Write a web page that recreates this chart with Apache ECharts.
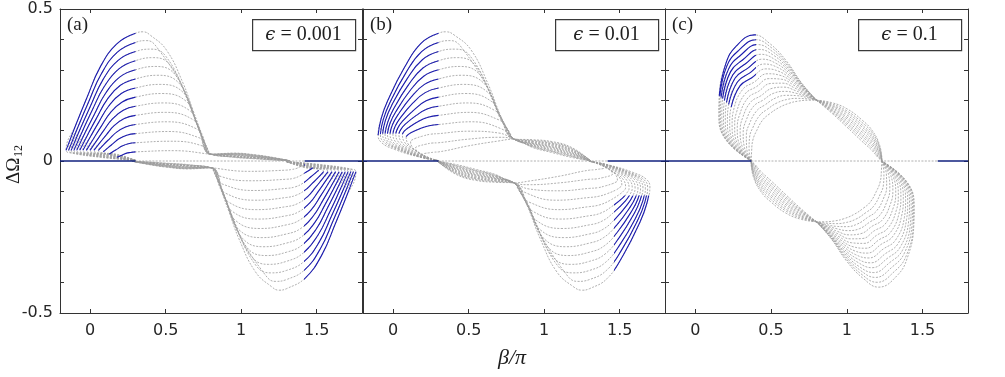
<!DOCTYPE html>
<html>
<head>
<meta charset="utf-8">
<script src="https://cdn.jsdelivr.net/npm/echarts@6/dist/echarts.min.js"></script>
<style>
html, body { margin: 0; padding: 0; background: #fff; }
#main { width: 1005px; height: 377px; }
</style>
</head>
<body>
<div id="main"></div>
<script>
// ---------------- data ----------------
// x = beta/pi, y = Delta Omega_12. Each row is one loop of the family.

// panel (a), eps = 0.001, upper lobe: return branch near zero, rising (blue) part, hump + thin band
var aUpLow = [
  [[0.3,0.002],[0.07,0.012],[-0.145,0.028],[-0.16,0.035]],
  [[0.3,0.002],[0.079,0.013],[-0.128,0.028],[-0.143,0.035]],
  [[0.3,0.002],[0.087,0.014],[-0.111,0.028],[-0.126,0.035]],
  [[0.3,0.002],[0.096,0.015],[-0.093,0.028],[-0.108,0.035]],
  [[0.3,0.002],[0.106,0.016],[-0.074,0.028],[-0.089,0.035]],
  [[0.3,0.002],[0.116,0.017],[-0.054,0.028],[-0.069,0.035]],
  [[0.3,0.002],[0.126,0.018],[-0.033,0.028],[-0.048,0.035]],
  [[0.3,0.002],[0.138,0.019],[-0.01,0.028],[-0.025,0.035]],
  [[0.3,0.002],[0.15,0.02],[0.014,0.028],[-0.001,0.035]],
  [[0.3,0.002],[0.163,0.021],[0.04,0.028],[0.025,0.035]],
  [[0.3,0.002],[0.177,0.022],[0.069,0.028],[0.054,0.035]],
  [[0.3,0.002],[0.194,0.018],[0.1,0.024],[0.087,0.03]],
  [[0.3,0.002],[0.213,0.013],[0.138,0.018],[0.126,0.022]],
  [[0.3,0.001],[0.239,0.007],[0.185,0.01],[0.177,0.012]]
];
var aUpRise = [
  [[-0.16,0.035],[-0.091,0.124],[-0.022,0.208],[0.065,0.308],[0.176,0.385],[0.3,0.42]],
  [[-0.143,0.035],[-0.077,0.117],[-0.01,0.195],[0.074,0.287],[0.18,0.358],[0.3,0.39]],
  [[-0.126,0.035],[-0.062,0.11],[0.002,0.181],[0.083,0.266],[0.185,0.331],[0.3,0.36]],
  [[-0.108,0.035],[-0.047,0.103],[0.014,0.168],[0.092,0.244],[0.19,0.303],[0.3,0.33]],
  [[-0.089,0.035],[-0.031,0.096],[0.028,0.154],[0.102,0.223],[0.195,0.276],[0.3,0.3]],
  [[-0.069,0.035],[-0.014,0.089],[0.042,0.141],[0.112,0.202],[0.2,0.249],[0.3,0.27]],
  [[-0.048,0.035],[0.004,0.082],[0.056,0.127],[0.123,0.181],[0.206,0.222],[0.3,0.24]],
  [[-0.025,0.035],[0.024,0.075],[0.073,0.114],[0.134,0.159],[0.212,0.194],[0.3,0.21]],
  [[-0.001,0.035],[0.044,0.068],[0.089,0.1],[0.146,0.138],[0.219,0.167],[0.3,0.18]],
  [[0.025,0.035],[0.066,0.061],[0.108,0.087],[0.16,0.117],[0.226,0.14],[0.3,0.15]],
  [[0.054,0.035],[0.091,0.055],[0.128,0.073],[0.175,0.095],[0.234,0.112],[0.3,0.12]],
  [[0.087,0.03],[0.119,0.044],[0.151,0.057],[0.191,0.073],[0.242,0.085],[0.3,0.09]],
  [[0.126,0.022],[0.152,0.031],[0.178,0.039],[0.211,0.049],[0.253,0.057],[0.3,0.06]],
  [[0.177,0.012],[0.195,0.016],[0.214,0.02],[0.237,0.025],[0.267,0.028],[0.3,0.03]]
];
var aUpHump = [
  [[0.3,0.42],[0.35,0.425],[0.4,0.413],[0.505,0.365],[0.615,0.256],[0.68,0.168],[0.747,0.08],[0.8,0.022],[0.95,0.026],[1.1,0.02],[1.22,0.011],[1.32,0.001]],
  [[0.3,0.39],[0.375,0.396],[0.44,0.375],[0.621,0.234],[0.713,0.117],[0.8,0.022],[0.95,0.025],[1.1,0.019],[1.22,0.01],[1.32,0.001]],
  [[0.3,0.36],[0.405,0.368],[0.5,0.345],[0.635,0.216],[0.72,0.108],[0.8,0.022],[0.95,0.024],[1.1,0.018],[1.22,0.01],[1.32,0.001]],
  [[0.3,0.33],[0.42,0.34],[0.53,0.315],[0.647,0.198],[0.727,0.099],[0.8,0.022],[0.95,0.023],[1.1,0.017],[1.22,0.009],[1.32,0.001]],
  [[0.3,0.3],[0.435,0.311],[0.561,0.285],[0.661,0.18],[0.734,0.09],[0.8,0.022],[0.95,0.022],[1.1,0.016],[1.22,0.009],[1.32,0.001]],
  [[0.3,0.27],[0.45,0.282],[0.59,0.255],[0.675,0.162],[0.74,0.081],[0.8,0.022],[0.95,0.021],[1.1,0.015],[1.22,0.008],[1.32,0.001]],
  [[0.3,0.24],[0.463,0.252],[0.617,0.225],[0.688,0.144],[0.748,0.072],[0.8,0.022],[0.95,0.02],[1.1,0.014],[1.22,0.007],[1.32,0.001]],
  [[0.3,0.21],[0.475,0.222],[0.639,0.195],[0.702,0.126],[0.756,0.063],[0.8,0.022],[0.95,0.019],[1.1,0.013],[1.22,0.007],[1.32,0.001]],
  [[0.3,0.18],[0.486,0.191],[0.661,0.165],[0.716,0.108],[0.764,0.054],[0.8,0.022],[0.95,0.017],[1.1,0.012],[1.22,0.006],[1.32,0.001]],
  [[0.3,0.15],[0.497,0.16],[0.684,0.135],[0.73,0.09],[0.773,0.045],[0.8,0.022],[0.95,0.016],[1.1,0.011],[1.22,0.006],[1.32,0.001]],
  [[0.3,0.12],[0.508,0.129],[0.707,0.105],[0.744,0.072],[0.781,0.036],[0.8,0.022],[0.95,0.015],[1.1,0.01],[1.22,0.005],[1.32,0.001]],
  [[0.3,0.09],[0.52,0.097],[0.729,0.075],[0.76,0.054],[0.8,0.022],[0.95,0.014],[1.1,0.009],[1.22,0.004],[1.32,0.001]],
  [[0.3,0.06],[0.532,0.065],[0.74,0.05],[0.8,0.022],[0.95,0.013],[1.1,0.008],[1.22,0.004],[1.32,0.001]],
  [[0.3,0.03],[0.55,0.034],[0.8,0.022],[0.95,0.012],[1.1,0.007],[1.22,0.003],[1.32,0.001]]
];

// panel (a), lower lobe
var aDnLow = [
  [[1.3,-0.002],[1.53,-0.012],[1.745,-0.028],[1.76,-0.035]],
  [[1.3,-0.002],[1.521,-0.013],[1.728,-0.028],[1.743,-0.035]],
  [[1.3,-0.002],[1.513,-0.014],[1.711,-0.028],[1.726,-0.035]],
  [[1.3,-0.002],[1.504,-0.015],[1.693,-0.028],[1.708,-0.035]],
  [[1.3,-0.002],[1.494,-0.016],[1.674,-0.028],[1.689,-0.035]],
  [[1.3,-0.002],[1.484,-0.017],[1.654,-0.028],[1.669,-0.035]],
  [[1.3,-0.002],[1.474,-0.018],[1.633,-0.028],[1.648,-0.035]],
  [[1.3,-0.002],[1.462,-0.019],[1.61,-0.028],[1.625,-0.035]],
  [[1.3,-0.002],[1.45,-0.02],[1.586,-0.028],[1.601,-0.035]],
  [[1.3,-0.002],[1.437,-0.021],[1.56,-0.028],[1.575,-0.035]],
  [[1.3,-0.002],[1.423,-0.022],[1.531,-0.028],[1.546,-0.035]],
  [[1.3,-0.002],[1.406,-0.018],[1.5,-0.024],[1.513,-0.03]],
  [[1.3,-0.002],[1.387,-0.013],[1.462,-0.018],[1.474,-0.022]],
  [[1.3,-0.001],[1.361,-0.007],[1.415,-0.01],[1.423,-0.012]]
];
var aDnRise = [
  [[1.76,-0.035],[1.691,-0.124],[1.622,-0.208],[1.535,-0.308],[1.424,-0.385],[1.3,-0.42]],
  [[1.743,-0.035],[1.677,-0.117],[1.61,-0.195],[1.526,-0.287],[1.42,-0.358],[1.3,-0.39]],
  [[1.726,-0.035],[1.662,-0.11],[1.598,-0.181],[1.517,-0.266],[1.415,-0.331],[1.3,-0.36]],
  [[1.708,-0.035],[1.647,-0.103],[1.586,-0.168],[1.508,-0.244],[1.41,-0.303],[1.3,-0.33]],
  [[1.689,-0.035],[1.631,-0.096],[1.572,-0.154],[1.498,-0.223],[1.405,-0.276],[1.3,-0.3]],
  [[1.669,-0.035],[1.614,-0.089],[1.558,-0.141],[1.488,-0.202],[1.4,-0.249],[1.3,-0.27]],
  [[1.648,-0.035],[1.596,-0.082],[1.544,-0.127],[1.477,-0.181],[1.394,-0.222],[1.3,-0.24]],
  [[1.625,-0.035],[1.576,-0.075],[1.527,-0.114],[1.466,-0.159],[1.388,-0.194],[1.3,-0.21]],
  [[1.601,-0.035],[1.556,-0.068],[1.511,-0.1],[1.454,-0.138],[1.381,-0.167],[1.3,-0.18]],
  [[1.575,-0.035],[1.534,-0.061],[1.492,-0.087],[1.44,-0.117],[1.374,-0.14],[1.3,-0.15]],
  [[1.546,-0.035],[1.509,-0.055],[1.472,-0.073],[1.425,-0.095],[1.366,-0.112],[1.3,-0.12]],
  [[1.513,-0.03],[1.481,-0.044],[1.449,-0.057],[1.409,-0.073],[1.358,-0.085],[1.3,-0.09]],
  [[1.474,-0.022],[1.448,-0.031],[1.422,-0.039],[1.389,-0.049],[1.347,-0.057],[1.3,-0.06]],
  [[1.423,-0.012],[1.405,-0.016],[1.386,-0.02],[1.363,-0.025],[1.333,-0.028],[1.3,-0.03]]
];
var aDnHump = [
  [[1.3,-0.42],[1.25,-0.425],[1.2,-0.413],[1.095,-0.365],[0.985,-0.256],[0.92,-0.168],[0.853,-0.08],[0.8,-0.022],[0.65,-0.026],[0.5,-0.02],[0.38,-0.011],[0.28,-0.001]],
  [[1.3,-0.39],[1.225,-0.396],[1.16,-0.375],[0.979,-0.234],[0.887,-0.117],[0.8,-0.022],[0.65,-0.025],[0.5,-0.019],[0.38,-0.01],[0.28,-0.001]],
  [[1.3,-0.36],[1.195,-0.368],[1.1,-0.345],[0.965,-0.216],[0.88,-0.108],[0.8,-0.022],[0.65,-0.024],[0.5,-0.018],[0.38,-0.01],[0.28,-0.001]],
  [[1.3,-0.33],[1.18,-0.34],[1.07,-0.315],[0.953,-0.198],[0.873,-0.099],[0.8,-0.022],[0.65,-0.023],[0.5,-0.017],[0.38,-0.009],[0.28,-0.001]],
  [[1.3,-0.3],[1.165,-0.311],[1.039,-0.285],[0.939,-0.18],[0.866,-0.09],[0.8,-0.022],[0.65,-0.022],[0.5,-0.016],[0.38,-0.009],[0.28,-0.001]],
  [[1.3,-0.27],[1.15,-0.282],[1.01,-0.255],[0.925,-0.162],[0.86,-0.081],[0.8,-0.022],[0.65,-0.021],[0.5,-0.015],[0.38,-0.008],[0.28,-0.001]],
  [[1.3,-0.24],[1.137,-0.252],[0.983,-0.225],[0.912,-0.144],[0.852,-0.072],[0.8,-0.022],[0.65,-0.02],[0.5,-0.014],[0.38,-0.007],[0.28,-0.001]],
  [[1.3,-0.21],[1.125,-0.222],[0.961,-0.195],[0.898,-0.126],[0.844,-0.063],[0.8,-0.022],[0.65,-0.019],[0.5,-0.013],[0.38,-0.007],[0.28,-0.001]],
  [[1.3,-0.18],[1.114,-0.191],[0.939,-0.165],[0.884,-0.108],[0.836,-0.054],[0.8,-0.022],[0.65,-0.017],[0.5,-0.012],[0.38,-0.006],[0.28,-0.001]],
  [[1.3,-0.15],[1.103,-0.16],[0.916,-0.135],[0.87,-0.09],[0.827,-0.045],[0.8,-0.022],[0.65,-0.016],[0.5,-0.011],[0.38,-0.006],[0.28,-0.001]],
  [[1.3,-0.12],[1.092,-0.129],[0.893,-0.105],[0.856,-0.072],[0.819,-0.036],[0.8,-0.022],[0.65,-0.015],[0.5,-0.01],[0.38,-0.005],[0.28,-0.001]],
  [[1.3,-0.09],[1.08,-0.097],[0.871,-0.075],[0.84,-0.054],[0.8,-0.022],[0.65,-0.014],[0.5,-0.009],[0.38,-0.004],[0.28,-0.001]],
  [[1.3,-0.06],[1.068,-0.065],[0.86,-0.05],[0.8,-0.022],[0.65,-0.013],[0.5,-0.008],[0.38,-0.004],[0.28,-0.001]],
  [[1.3,-0.03],[1.05,-0.034],[0.8,-0.022],[0.65,-0.012],[0.5,-0.007],[0.38,-0.003],[0.28,-0.001]]
];

// panel (b), eps = 0.01, upper lobe
var bUpLow = [
  [[0.3,0.001],[0.165,0.014],[0.01,0.038],[-0.076,0.06],[-0.1,0.085]],
  [[0.3,0.001],[0.17,0.014],[0.021,0.04],[-0.062,0.062],[-0.085,0.088]],
  [[0.3,0.001],[0.175,0.014],[0.032,0.04],[-0.048,0.063],[-0.07,0.09]],
  [[0.3,0.001],[0.18,0.014],[0.043,0.04],[-0.033,0.063],[-0.054,0.09]],
  [[0.3,0.001],[0.186,0.014],[0.055,0.04],[-0.018,0.063],[-0.038,0.09]],
  [[0.3,0.001],[0.191,0.014],[0.067,0.04],[-0.002,0.063],[-0.021,0.09]],
  [[0.3,0.001],[0.198,0.014],[0.081,0.04],[0.016,0.063],[-0.002,0.09]],
  [[0.3,0.001],[0.204,0.014],[0.095,0.04],[0.034,0.063],[0.017,0.09]],
  [[0.3,0.001],[0.211,0.014],[0.11,0.04],[0.054,0.063],[0.038,0.09]],
  [[0.3,0.001],[0.219,0.014],[0.127,0.04],[0.075,0.062],[0.061,0.088]],
  [[0.3,0.001],[0.228,0.013],[0.145,0.036],[0.099,0.056],[0.086,0.08]],
  [[0.3,0.001],[0.237,0.01],[0.166,0.029],[0.126,0.046],[0.115,0.065]],
  [[0.3,0.001],[0.249,0.007],[0.191,0.02],[0.158,0.032],[0.149,0.045]],
  [[0.3,0.001],[0.264,0.004],[0.222,0.01],[0.199,0.015],[0.193,0.022]]
];
var bUpRise = [
  [[-0.1,0.085],[-0.08,0.139],[-0.036,0.199],[0.076,0.309],[0.184,0.387],[0.3,0.42]],
  [[-0.085,0.088],[-0.066,0.136],[-0.023,0.191],[0.084,0.29],[0.188,0.36],[0.3,0.39]],
  [[-0.07,0.09],[-0.052,0.133],[-0.011,0.182],[0.093,0.271],[0.193,0.333],[0.3,0.36]],
  [[-0.054,0.09],[-0.036,0.128],[0.003,0.172],[0.102,0.251],[0.197,0.306],[0.3,0.33]],
  [[-0.038,0.09],[-0.021,0.124],[0.016,0.161],[0.111,0.231],[0.202,0.279],[0.3,0.3]],
  [[-0.021,0.09],[-0.005,0.119],[0.03,0.151],[0.12,0.211],[0.207,0.252],[0.3,0.27]],
  [[-0.002,0.09],[0.013,0.114],[0.046,0.141],[0.131,0.191],[0.212,0.225],[0.3,0.24]],
  [[0.017,0.09],[0.031,0.109],[0.062,0.131],[0.142,0.17],[0.218,0.198],[0.3,0.21]],
  [[0.038,0.09],[0.051,0.104],[0.08,0.121],[0.153,0.15],[0.224,0.171],[0.3,0.18]],
  [[0.061,0.088],[0.073,0.098],[0.099,0.109],[0.166,0.13],[0.231,0.144],[0.3,0.15]],
  [[0.086,0.08],[0.097,0.086],[0.12,0.094],[0.18,0.107],[0.238,0.116],[0.3,0.12]],
  [[0.115,0.065],[0.124,0.069],[0.145,0.074],[0.196,0.082],[0.246,0.088],[0.3,0.09]],
  [[0.149,0.045],[0.157,0.047],[0.173,0.05],[0.215,0.055],[0.256,0.059],[0.3,0.06]],
  [[0.193,0.022],[0.198,0.023],[0.21,0.025],[0.24,0.027],[0.269,0.029],[0.3,0.03]]
];
var bUpHump = [
  [[0.3,0.42],[0.35,0.425],[0.405,0.414],[0.516,0.365],[0.626,0.256],[0.714,0.146],[0.775,0.09],[0.8,0.072],[0.92,0.07],[1.05,0.064],[1.18,0.045],[1.31,0]],
  [[0.3,0.39],[0.38,0.396],[0.45,0.375],[0.636,0.231],[0.705,0.152],[0.8,0.072],[0.92,0.068],[1.05,0.061],[1.18,0.042],[1.31,0]],
  [[0.3,0.36],[0.41,0.368],[0.51,0.345],[0.648,0.216],[0.711,0.144],[0.8,0.072],[0.92,0.066],[1.05,0.058],[1.18,0.04],[1.31,0]],
  [[0.3,0.33],[0.427,0.34],[0.543,0.315],[0.66,0.201],[0.72,0.137],[0.8,0.072],[0.92,0.064],[1.05,0.056],[1.18,0.037],[1.31,0]],
  [[0.3,0.3],[0.441,0.311],[0.572,0.285],[0.672,0.186],[0.728,0.129],[0.8,0.072],[0.92,0.062],[1.05,0.053],[1.18,0.035],[1.31,0]],
  [[0.3,0.27],[0.456,0.282],[0.602,0.255],[0.684,0.171],[0.736,0.122],[0.8,0.072],[0.92,0.06],[1.05,0.05],[1.18,0.032],[1.31,0]],
  [[0.3,0.24],[0.47,0.252],[0.629,0.225],[0.696,0.156],[0.745,0.114],[0.8,0.072],[0.92,0.058],[1.05,0.047],[1.18,0.03],[1.31,0]],
  [[0.3,0.21],[0.482,0.222],[0.653,0.195],[0.708,0.141],[0.753,0.107],[0.8,0.072],[0.92,0.057],[1.05,0.045],[1.18,0.027],[1.31,0]],
  [[0.3,0.18],[0.494,0.191],[0.677,0.165],[0.727,0.126],[0.763,0.099],[0.8,0.072],[0.92,0.055],[1.05,0.042],[1.18,0.025],[1.31,0]],
  [[0.3,0.15],[0.505,0.16],[0.701,0.135],[0.745,0.111],[0.8,0.072],[0.92,0.053],[1.05,0.039],[1.18,0.022],[1.31,0]],
  [[0.3,0.12],[0.52,0.129],[0.72,0.105],[0.8,0.072],[0.92,0.051],[1.05,0.036],[1.18,0.02],[1.31,0]],
  [[0.3,0.09],[0.5,0.098],[0.7,0.092],[0.8,0.072],[0.92,0.049],[1.05,0.033],[1.18,0.017],[1.31,0]],
  [[0.3,0.06],[0.5,0.072],[0.7,0.078],[0.8,0.072],[0.92,0.047],[1.05,0.031],[1.18,0.015],[1.31,0]],
  [[0.3,0.03],[0.5,0.05],[0.7,0.066],[0.8,0.072],[0.92,0.045],[1.05,0.028],[1.18,0.012],[1.31,0]]
];

// panel (b), lower lobe
var bDnLow = [
  [[1.3,-0.001],[1.435,-0.014],[1.59,-0.038],[1.676,-0.06],[1.7,-0.085]],
  [[1.3,-0.001],[1.43,-0.014],[1.579,-0.04],[1.662,-0.062],[1.685,-0.088]],
  [[1.3,-0.001],[1.425,-0.014],[1.568,-0.04],[1.648,-0.063],[1.67,-0.09]],
  [[1.3,-0.001],[1.42,-0.014],[1.557,-0.04],[1.633,-0.063],[1.654,-0.09]],
  [[1.3,-0.001],[1.414,-0.014],[1.545,-0.04],[1.618,-0.063],[1.638,-0.09]],
  [[1.3,-0.001],[1.409,-0.014],[1.533,-0.04],[1.602,-0.063],[1.621,-0.09]],
  [[1.3,-0.001],[1.402,-0.014],[1.519,-0.04],[1.584,-0.063],[1.602,-0.09]],
  [[1.3,-0.001],[1.396,-0.014],[1.505,-0.04],[1.566,-0.063],[1.583,-0.09]],
  [[1.3,-0.001],[1.389,-0.014],[1.49,-0.04],[1.546,-0.063],[1.562,-0.09]],
  [[1.3,-0.001],[1.381,-0.014],[1.473,-0.04],[1.525,-0.062],[1.539,-0.088]],
  [[1.3,-0.001],[1.372,-0.013],[1.455,-0.036],[1.501,-0.056],[1.514,-0.08]],
  [[1.3,-0.001],[1.363,-0.01],[1.434,-0.029],[1.474,-0.046],[1.485,-0.065]],
  [[1.3,-0.001],[1.351,-0.007],[1.409,-0.02],[1.442,-0.032],[1.451,-0.045]],
  [[1.3,-0.001],[1.336,-0.004],[1.378,-0.01],[1.401,-0.015],[1.407,-0.022]]
];
var bDnRise = [
  [[1.7,-0.085],[1.68,-0.139],[1.636,-0.199],[1.524,-0.309],[1.416,-0.387],[1.3,-0.42]],
  [[1.685,-0.088],[1.666,-0.136],[1.623,-0.191],[1.516,-0.29],[1.412,-0.36],[1.3,-0.39]],
  [[1.67,-0.09],[1.652,-0.133],[1.611,-0.182],[1.507,-0.271],[1.407,-0.333],[1.3,-0.36]],
  [[1.654,-0.09],[1.636,-0.128],[1.597,-0.172],[1.498,-0.251],[1.403,-0.306],[1.3,-0.33]],
  [[1.638,-0.09],[1.621,-0.124],[1.584,-0.161],[1.489,-0.231],[1.398,-0.279],[1.3,-0.3]],
  [[1.621,-0.09],[1.605,-0.119],[1.57,-0.151],[1.48,-0.211],[1.393,-0.252],[1.3,-0.27]],
  [[1.602,-0.09],[1.587,-0.114],[1.554,-0.141],[1.469,-0.191],[1.388,-0.225],[1.3,-0.24]],
  [[1.583,-0.09],[1.569,-0.109],[1.538,-0.131],[1.458,-0.17],[1.382,-0.198],[1.3,-0.21]],
  [[1.562,-0.09],[1.549,-0.104],[1.52,-0.121],[1.447,-0.15],[1.376,-0.171],[1.3,-0.18]],
  [[1.539,-0.088],[1.527,-0.098],[1.501,-0.109],[1.434,-0.13],[1.369,-0.144],[1.3,-0.15]],
  [[1.514,-0.08],[1.503,-0.086],[1.48,-0.094],[1.42,-0.107],[1.362,-0.116],[1.3,-0.12]],
  [[1.485,-0.065],[1.476,-0.069],[1.455,-0.074],[1.404,-0.082],[1.354,-0.088],[1.3,-0.09]],
  [[1.451,-0.045],[1.443,-0.047],[1.427,-0.05],[1.385,-0.055],[1.344,-0.059],[1.3,-0.06]],
  [[1.407,-0.022],[1.402,-0.023],[1.39,-0.025],[1.36,-0.027],[1.331,-0.029],[1.3,-0.03]]
];
var bDnHump = [
  [[1.3,-0.42],[1.25,-0.425],[1.195,-0.414],[1.084,-0.365],[0.974,-0.256],[0.886,-0.146],[0.825,-0.09],[0.8,-0.072],[0.68,-0.07],[0.55,-0.064],[0.42,-0.045],[0.29,0]],
  [[1.3,-0.39],[1.22,-0.396],[1.15,-0.375],[0.964,-0.231],[0.895,-0.152],[0.8,-0.072],[0.68,-0.068],[0.55,-0.061],[0.42,-0.042],[0.29,0]],
  [[1.3,-0.36],[1.19,-0.368],[1.09,-0.345],[0.952,-0.216],[0.889,-0.144],[0.8,-0.072],[0.68,-0.066],[0.55,-0.058],[0.42,-0.04],[0.29,0]],
  [[1.3,-0.33],[1.173,-0.34],[1.057,-0.315],[0.94,-0.201],[0.88,-0.137],[0.8,-0.072],[0.68,-0.064],[0.55,-0.056],[0.42,-0.037],[0.29,0]],
  [[1.3,-0.3],[1.159,-0.311],[1.028,-0.285],[0.928,-0.186],[0.872,-0.129],[0.8,-0.072],[0.68,-0.062],[0.55,-0.053],[0.42,-0.035],[0.29,0]],
  [[1.3,-0.27],[1.144,-0.282],[0.998,-0.255],[0.916,-0.171],[0.864,-0.122],[0.8,-0.072],[0.68,-0.06],[0.55,-0.05],[0.42,-0.032],[0.29,0]],
  [[1.3,-0.24],[1.13,-0.252],[0.971,-0.225],[0.904,-0.156],[0.855,-0.114],[0.8,-0.072],[0.68,-0.058],[0.55,-0.047],[0.42,-0.03],[0.29,0]],
  [[1.3,-0.21],[1.118,-0.222],[0.947,-0.195],[0.892,-0.141],[0.847,-0.107],[0.8,-0.072],[0.68,-0.057],[0.55,-0.045],[0.42,-0.027],[0.29,0]],
  [[1.3,-0.18],[1.106,-0.191],[0.923,-0.165],[0.873,-0.126],[0.837,-0.099],[0.8,-0.072],[0.68,-0.055],[0.55,-0.042],[0.42,-0.025],[0.29,0]],
  [[1.3,-0.15],[1.095,-0.16],[0.899,-0.135],[0.855,-0.111],[0.8,-0.072],[0.68,-0.053],[0.55,-0.039],[0.42,-0.022],[0.29,0]],
  [[1.3,-0.12],[1.08,-0.129],[0.88,-0.105],[0.8,-0.072],[0.68,-0.051],[0.55,-0.036],[0.42,-0.02],[0.29,0]],
  [[1.3,-0.09],[1.1,-0.098],[0.9,-0.092],[0.8,-0.072],[0.68,-0.049],[0.55,-0.033],[0.42,-0.017],[0.29,0]],
  [[1.3,-0.06],[1.1,-0.072],[0.9,-0.078],[0.8,-0.072],[0.68,-0.047],[0.55,-0.031],[0.42,-0.015],[0.29,0]],
  [[1.3,-0.03],[1.1,-0.05],[0.9,-0.066],[0.8,-0.072],[0.68,-0.045],[0.55,-0.028],[0.42,-0.012],[0.29,0]]
];

// panel (c), eps = 0.1: upper-left and lower-right lobes, and the two arc bands
var cUp = [
  [[0.37,0],[0.203,0.069],[0.155,0.15],[0.158,0.215],[0.2,0.318],[0.27,0.378],[0.39,0.415],[0.49,0.387],[0.6,0.33],[0.7,0.258],[0.8,0.2]],
  [[0.37,0],[0.206,0.068],[0.159,0.149],[0.162,0.213],[0.208,0.312],[0.285,0.363],[0.401,0.399],[0.499,0.374],[0.605,0.321],[0.703,0.254],[0.8,0.2]],
  [[0.37,0],[0.211,0.067],[0.166,0.146],[0.17,0.209],[0.22,0.303],[0.299,0.348],[0.411,0.383],[0.507,0.361],[0.611,0.312],[0.707,0.25],[0.8,0.2]],
  [[0.37,0],[0.218,0.066],[0.175,0.143],[0.18,0.205],[0.233,0.294],[0.314,0.333],[0.422,0.367],[0.516,0.348],[0.616,0.303],[0.71,0.246],[0.8,0.2]],
  [[0.37,0],[0.226,0.064],[0.186,0.139],[0.192,0.199],[0.247,0.283],[0.329,0.319],[0.433,0.351],[0.525,0.334],[0.621,0.295],[0.713,0.243],[0.8,0.2]],
  [[0.37,0],[0.236,0.062],[0.198,0.134],[0.206,0.193],[0.262,0.272],[0.343,0.304],[0.443,0.335],[0.533,0.321],[0.627,0.286],[0.717,0.239],[0.8,0.2]],
  [[0.37,0],[0.246,0.06],[0.212,0.13],[0.22,0.186],[0.278,0.26],[0.358,0.289],[0.454,0.319],[0.542,0.308],[0.632,0.277],[0.72,0.235],[0.8,0.2]],
  [[0.37,0],[0.257,0.058],[0.227,0.124],[0.237,0.178],[0.295,0.247],[0.373,0.274],[0.465,0.303],[0.551,0.295],[0.637,0.268],[0.723,0.231],[0.8,0.2]],
  [[0.37,0],[0.269,0.056],[0.243,0.118],[0.254,0.17],[0.312,0.235],[0.387,0.259],[0.475,0.287],[0.559,0.282],[0.643,0.259],[0.727,0.227],[0.8,0.2]],
  [[0.37,0],[0.282,0.053],[0.26,0.112],[0.273,0.162],[0.329,0.221],[0.402,0.244],[0.486,0.271],[0.568,0.269],[0.648,0.25],[0.73,0.223],[0.8,0.2]],
  [[0.37,0],[0.295,0.05],[0.277,0.106],[0.292,0.152],[0.348,0.208],[0.417,0.229],[0.497,0.255],[0.577,0.256],[0.653,0.241],[0.733,0.219],[0.8,0.2]],
  [[0.37,0],[0.309,0.048],[0.296,0.099],[0.313,0.143],[0.366,0.194],[0.431,0.214],[0.507,0.239],[0.585,0.243],[0.659,0.232],[0.737,0.215],[0.8,0.2]],
  [[0.37,0],[0.324,0.045],[0.316,0.092],[0.335,0.133],[0.385,0.18],[0.446,0.2],[0.518,0.223],[0.594,0.229],[0.664,0.223],[0.74,0.212],[0.8,0.2]],
  [[0.37,0],[0.339,0.042],[0.337,0.085],[0.357,0.122],[0.405,0.165],[0.461,0.185],[0.529,0.207],[0.603,0.216],[0.669,0.215],[0.743,0.208],[0.8,0.2]],
  [[0.37,0],[0.355,0.038],[0.358,0.077],[0.381,0.111],[0.425,0.15],[0.475,0.17],[0.539,0.191],[0.611,0.203],[0.675,0.206],[0.747,0.204],[0.8,0.2]],
  [[0.37,0],[0.372,0.035],[0.38,0.069],[0.405,0.1],[0.445,0.135],[0.49,0.155],[0.55,0.175],[0.62,0.19],[0.68,0.197],[0.75,0.2],[0.8,0.2]]
];
var cDn = [
  [[1.23,0],[1.397,-0.069],[1.445,-0.15],[1.442,-0.215],[1.4,-0.318],[1.33,-0.378],[1.21,-0.415],[1.11,-0.387],[1.0,-0.33],[0.9,-0.258],[0.8,-0.2]],
  [[1.23,0],[1.394,-0.068],[1.441,-0.149],[1.438,-0.213],[1.392,-0.312],[1.315,-0.363],[1.199,-0.399],[1.101,-0.374],[0.995,-0.321],[0.897,-0.254],[0.8,-0.2]],
  [[1.23,0],[1.389,-0.067],[1.434,-0.146],[1.43,-0.209],[1.38,-0.303],[1.301,-0.348],[1.189,-0.383],[1.093,-0.361],[0.989,-0.312],[0.893,-0.25],[0.8,-0.2]],
  [[1.23,0],[1.382,-0.066],[1.425,-0.143],[1.42,-0.205],[1.367,-0.294],[1.286,-0.333],[1.178,-0.367],[1.084,-0.348],[0.984,-0.303],[0.89,-0.246],[0.8,-0.2]],
  [[1.23,0],[1.374,-0.064],[1.414,-0.139],[1.408,-0.199],[1.353,-0.283],[1.271,-0.319],[1.167,-0.351],[1.075,-0.334],[0.979,-0.295],[0.887,-0.243],[0.8,-0.2]],
  [[1.23,0],[1.364,-0.062],[1.402,-0.134],[1.394,-0.193],[1.338,-0.272],[1.257,-0.304],[1.157,-0.335],[1.067,-0.321],[0.973,-0.286],[0.883,-0.239],[0.8,-0.2]],
  [[1.23,0],[1.354,-0.06],[1.388,-0.13],[1.38,-0.186],[1.322,-0.26],[1.242,-0.289],[1.146,-0.319],[1.058,-0.308],[0.968,-0.277],[0.88,-0.235],[0.8,-0.2]],
  [[1.23,0],[1.343,-0.058],[1.373,-0.124],[1.363,-0.178],[1.305,-0.247],[1.227,-0.274],[1.135,-0.303],[1.049,-0.295],[0.963,-0.268],[0.877,-0.231],[0.8,-0.2]],
  [[1.23,0],[1.331,-0.056],[1.357,-0.118],[1.346,-0.17],[1.288,-0.235],[1.213,-0.259],[1.125,-0.287],[1.041,-0.282],[0.957,-0.259],[0.873,-0.227],[0.8,-0.2]],
  [[1.23,0],[1.318,-0.053],[1.34,-0.112],[1.327,-0.162],[1.271,-0.221],[1.198,-0.244],[1.114,-0.271],[1.032,-0.269],[0.952,-0.25],[0.87,-0.223],[0.8,-0.2]],
  [[1.23,0],[1.305,-0.05],[1.323,-0.106],[1.308,-0.152],[1.252,-0.208],[1.183,-0.229],[1.103,-0.255],[1.023,-0.256],[0.947,-0.241],[0.867,-0.219],[0.8,-0.2]],
  [[1.23,0],[1.291,-0.048],[1.304,-0.099],[1.287,-0.143],[1.234,-0.194],[1.169,-0.214],[1.093,-0.239],[1.015,-0.243],[0.941,-0.232],[0.863,-0.215],[0.8,-0.2]],
  [[1.23,0],[1.276,-0.045],[1.284,-0.092],[1.265,-0.133],[1.215,-0.18],[1.154,-0.2],[1.082,-0.223],[1.006,-0.229],[0.936,-0.223],[0.86,-0.212],[0.8,-0.2]],
  [[1.23,0],[1.261,-0.042],[1.263,-0.085],[1.243,-0.122],[1.195,-0.165],[1.139,-0.185],[1.071,-0.207],[0.997,-0.216],[0.931,-0.215],[0.857,-0.208],[0.8,-0.2]],
  [[1.23,0],[1.245,-0.038],[1.242,-0.077],[1.219,-0.111],[1.175,-0.15],[1.125,-0.17],[1.061,-0.191],[0.989,-0.203],[0.925,-0.206],[0.853,-0.204],[0.8,-0.2]],
  [[1.23,0],[1.228,-0.035],[1.22,-0.069],[1.195,-0.1],[1.155,-0.135],[1.11,-0.155],[1.05,-0.175],[0.98,-0.19],[0.92,-0.197],[0.85,-0.2],[0.8,-0.2]]
];
var cBandUp = [
  [[0.8,0.2],[0.9,0.192],[1.0,0.172],[1.1,0.135],[1.168,0.1],[1.218,0.05],[1.232,0]],
  [[0.8,0.2],[0.9,0.188],[1.0,0.165],[1.1,0.127],[1.168,0.093],[1.217,0.046],[1.232,0]],
  [[0.8,0.2],[0.9,0.184],[1.0,0.159],[1.1,0.119],[1.168,0.085],[1.215,0.042],[1.232,0]],
  [[0.8,0.2],[0.9,0.181],[1.0,0.152],[1.1,0.112],[1.168,0.078],[1.214,0.037],[1.232,0]],
  [[0.8,0.2],[0.9,0.177],[1.0,0.145],[1.1,0.104],[1.168,0.071],[1.212,0.033],[1.232,0]],
  [[0.8,0.2],[0.9,0.173],[1.0,0.139],[1.1,0.096],[1.168,0.063],[1.211,0.029],[1.232,0]],
  [[0.8,0.2],[0.9,0.169],[1.0,0.132],[1.1,0.088],[1.168,0.056],[1.209,0.025],[1.232,0]],
  [[0.8,0.2],[0.9,0.166],[1.0,0.125],[1.1,0.081],[1.168,0.049],[1.208,0.02],[1.232,0]],
  [[0.8,0.2],[0.9,0.162],[1.0,0.119],[1.1,0.073],[1.168,0.041],[1.206,0.016],[1.232,0]],
  [[0.8,0.2],[0.9,0.158],[1.0,0.112],[1.1,0.065],[1.168,0.034],[1.205,0.012],[1.232,0]]
];
var cBandDn = [
  [[0.8,-0.2],[0.7,-0.192],[0.6,-0.172],[0.5,-0.135],[0.432,-0.1],[0.382,-0.05],[0.368,0]],
  [[0.8,-0.2],[0.7,-0.188],[0.6,-0.165],[0.5,-0.127],[0.432,-0.093],[0.383,-0.046],[0.368,0]],
  [[0.8,-0.2],[0.7,-0.184],[0.6,-0.159],[0.5,-0.119],[0.432,-0.085],[0.385,-0.042],[0.368,0]],
  [[0.8,-0.2],[0.7,-0.181],[0.6,-0.152],[0.5,-0.112],[0.432,-0.078],[0.386,-0.037],[0.368,0]],
  [[0.8,-0.2],[0.7,-0.177],[0.6,-0.145],[0.5,-0.104],[0.432,-0.071],[0.388,-0.033],[0.368,0]],
  [[0.8,-0.2],[0.7,-0.173],[0.6,-0.139],[0.5,-0.096],[0.432,-0.063],[0.389,-0.029],[0.368,0]],
  [[0.8,-0.2],[0.7,-0.169],[0.6,-0.132],[0.5,-0.088],[0.432,-0.056],[0.391,-0.025],[0.368,0]],
  [[0.8,-0.2],[0.7,-0.166],[0.6,-0.125],[0.5,-0.081],[0.432,-0.049],[0.392,-0.02],[0.368,0]],
  [[0.8,-0.2],[0.7,-0.162],[0.6,-0.119],[0.5,-0.073],[0.432,-0.041],[0.394,-0.016],[0.368,0]],
  [[0.8,-0.2],[0.7,-0.158],[0.6,-0.112],[0.5,-0.065],[0.432,-0.034],[0.395,-0.012],[0.368,0]]
];

// trivial solution along zero: blue where stable, grey dotted otherwise
var zeroBlue = [
  [[[-0.2,0],[0.3,0]], [[1.42,0],[1.8,0]]],
  [[[-0.2,0],[0.3,0]], [[1.42,0],[1.8,0]]],
  [[[-0.2,0],[0.37,0]], [[1.6,0],[1.8,0]]]
];
var zeroGray = [
  [[0.3,0],[1.42,0]],
  [[0.3,0],[1.42,0]],
  [[0.37,0],[1.6,0]]
];

// where the blue (stable) parts are shown: [x0, x1, y0, y1] per panel window
var blueWindows = [
  { panel: 0, box: [-0.2, 0.3, -0.5, 0.5] },
  { panel: 0, box: [1.42, 1.8, -0.5, 0.5] },
  { panel: 1, box: [-0.2, 0.3, -0.5, 0.5] },
  { panel: 1, box: [1.47, 1.8, -0.5, -0.115] },
  { panel: 2, box: [-0.2, 0.39, -0.5, 0.5] }
];
var bUpBlueCount = 11;   // loops with blue rise in (b) upper lobe
var bDnBlueCount = 9;    // loops with blue strokes in (b) lower lobe
var cUpBlueCount = 8;    // outer loops with blue in (c)
var cBlueFrom = 3;       // blue starts at this point of each (c) loop

var xTicks = [0, 0.5, 1, 1.5];
var yLabels = [-0.5, 0, 0.5];
var panelTags = ['(a)', '(b)', '(c)'];
var epsTexts = ['0.001', '0.01', '0.1'];

// ---------------- layout ----------------
var TOP = 9, H = 304;
var XMIN = -0.2, XMAX = 1.8, YMIN = -0.5, YMAX = 0.5;
var panels = [
  { left: 60, width: 302 },
  { left: 363, width: 302 },
  { left: 665, width: 303 }
];
var frame = '#333333';
var GRAY = '#9c9c9c', BLUE = '#1c1cb0';

var grids = [], xAxes = [], yAxes = [], series = [];

panels.forEach(function (p, i) {
    grids.push({ left: p.left, top: TOP, width: p.width, height: H, outerBoundsMode: 'none', containLabel: false });
    var xBase = {
        gridIndex: i, type: 'value', min: XMIN, max: XMAX,
        axisLine: { show: true, onZero: false, lineStyle: { color: frame, width: 1 } },
        axisTick: { show: true, inside: true, length: 4, customValues: xTicks, lineStyle: { color: frame } },
        splitLine: { show: false }
    };
    xAxes.push(Object.assign({}, xBase, {
        position: 'bottom',
        axisLabel: { show: true, customValues: xTicks, margin: 10, fontFamily: 'DejaVu Sans', fontSize: 16, color: '#262626',
            formatter: function (v) { return String(v); } }
    }));
    xAxes.push(Object.assign({}, xBase, { position: 'top', axisLabel: { show: false } }));
    var yBase = {
        gridIndex: i, type: 'value', min: YMIN, max: YMAX, interval: 0.1,
        axisLine: { show: true, onZero: false, lineStyle: { color: frame, width: 1 } },
        axisTick: { show: true, inside: true, length: 4, lineStyle: { color: frame } },
        splitLine: { show: false }
    };
    yAxes.push(Object.assign({}, yBase, {
        position: 'left',
        axisLabel: { show: i === 0, customValues: yLabels, margin: 7, fontFamily: 'DejaVu Sans', fontSize: 16, color: '#262626',
            formatter: function (v) { return v === 0 ? '0' : String(v); } }
    }));
    yAxes.push(Object.assign({}, yBase, { position: 'right', axisLabel: { show: false } }));
});

// hidden sub grids that clip the blue overlays
blueWindows.forEach(function (w, k) {
    var p = panels[w.panel], b = w.box;
    grids.push({
        left: p.left + (b[0] - XMIN) / (XMAX - XMIN) * p.width,
        width: (b[1] - b[0]) / (XMAX - XMIN) * p.width,
        top: TOP + (YMAX - b[3]) / (YMAX - YMIN) * H,
        height: (b[3] - b[2]) / (YMAX - YMIN) * H,
        outerBoundsMode: 'none', containLabel: false
    });
    xAxes.push({ gridIndex: 3 + k, type: 'value', min: b[0], max: b[1], show: false, splitLine: { show: false } });
    yAxes.push({ gridIndex: 3 + k, type: 'value', min: b[2], max: b[3], show: false, splitLine: { show: false } });
});

function joinParts() {
    var out = [];
    for (var i = 0; i < arguments.length; i++) {
        out = out.concat(i === 0 ? arguments[i] : arguments[i].slice(1));
    }
    return out;
}
function grayLine(data, panel) {
    series.push({
        type: 'line', data: data, xAxisIndex: panel * 2, yAxisIndex: panel * 2,
        smooth: 0.45, symbol: 'none', silent: true, z: 2,
        lineStyle: { color: GRAY, width: 0.8, type: [2, 1.4] }
    });
}
function blueLine(data, win) {
    series.push({
        type: 'line', data: data, xAxisIndex: 6 + win, yAxisIndex: 6 + win,
        smooth: 0.45, symbol: 'none', silent: true, z: 3,
        lineStyle: { color: BLUE, width: 1.1 }
    });
}

// panel (a)
aUpRise.forEach(function (r, k) {
    grayLine(joinParts(aUpLow[k], r, aUpHump[k]), 0);
    grayLine(joinParts(aDnLow[k], aDnRise[k], aDnHump[k]), 0);
});
aUpRise.forEach(function (r) { blueLine(r, 0); });
aDnRise.forEach(function (r) { blueLine(r, 1); });

// panel (b)
bUpRise.forEach(function (r, k) {
    grayLine(joinParts(bUpLow[k], r, bUpHump[k]), 1);
    grayLine(joinParts(bDnLow[k], bDnRise[k], bDnHump[k]), 1);
});
bUpRise.slice(0, bUpBlueCount).forEach(function (r) { blueLine(r, 2); });
bDnRise.slice(0, bDnBlueCount).forEach(function (r) { blueLine(r, 3); });

// panel (c)
cUp.forEach(function (c) { grayLine(c, 2); });
cDn.forEach(function (c) { grayLine(c, 2); });
cBandUp.forEach(function (c) { grayLine(c, 2); });
cBandDn.forEach(function (c) { grayLine(c, 2); });
cUp.slice(0, cUpBlueCount).forEach(function (c) { blueLine(c.slice(cBlueFrom), 4); });

// zero lines
zeroGray.forEach(function (z, i) { grayLine(z, i); });
zeroBlue.forEach(function (segs, i) {
    segs.forEach(function (s) {
        series.push({
            type: 'line', data: s, xAxisIndex: i * 2, yAxisIndex: i * 2,
            symbol: 'none', silent: true, z: 4,
            lineStyle: { color: '#10207e', width: 1.6 }
        });
    });
});

// ---------------- texts ----------------
var graphic = [];
panels.forEach(function (p, i) {
    var bx = p.left + p.width - 110;
    graphic.push({
        type: 'rect', left: bx, top: 19, z: 10,
        shape: { x: 0, y: 0, width: 103, height: 31 },
        style: { fill: '#fff', stroke: '#3a3a3a', lineWidth: 1.2 }
    });
    graphic.push({
        type: 'text', x: bx + 51.5, y: 35, z: 11,
        style: {
            text: '{e|ϵ} = ' + epsTexts[i],
            font: '20px "Liberation Serif"', fill: '#1e1e1e', align: 'center', verticalAlign: 'middle',
            rich: { e: { fontFamily: 'DejaVu Serif', fontStyle: 'italic', fontSize: 18, fill: '#1e1e1e' } }
        }
    });
    graphic.push({
        type: 'text', x: p.left + 7, y: 25, z: 11,
        style: { text: panelTags[i], font: '19px "Liberation Serif"', fill: '#1e1e1e', align: 'left', verticalAlign: 'middle' }
    });
});
// y title, rotated
graphic.push({
    type: 'group', x: 14, y: 184, rotation: Math.PI / 2,
    children: [
        { type: 'text', x: 0, y: 0, style: { text: 'ΔΩ', font: '19px "Liberation Serif"', fill: '#1e1e1e', align: 'left', verticalAlign: 'middle' } },
        { type: 'text', x: 27, y: 5, style: { text: '12', font: '12px "Liberation Serif"', fill: '#1e1e1e', align: 'left', verticalAlign: 'middle' } }
    ]
});
// x title
graphic.push({
    type: 'text', x: 512, y: 358,
    style: { text: 'β/π', font: 'italic 22px "Liberation Serif"', fill: '#1e1e1e', align: 'center', verticalAlign: 'middle' }
});

var chart = echarts.init(document.getElementById('main'), null, { renderer: 'canvas' });
chart.setOption({
    backgroundColor: '#ffffff',
    animation: false,
    grid: grids,
    xAxis: xAxes,
    yAxis: yAxes,
    series: series,
    graphic: graphic
});
</script>
</body>
</html>
